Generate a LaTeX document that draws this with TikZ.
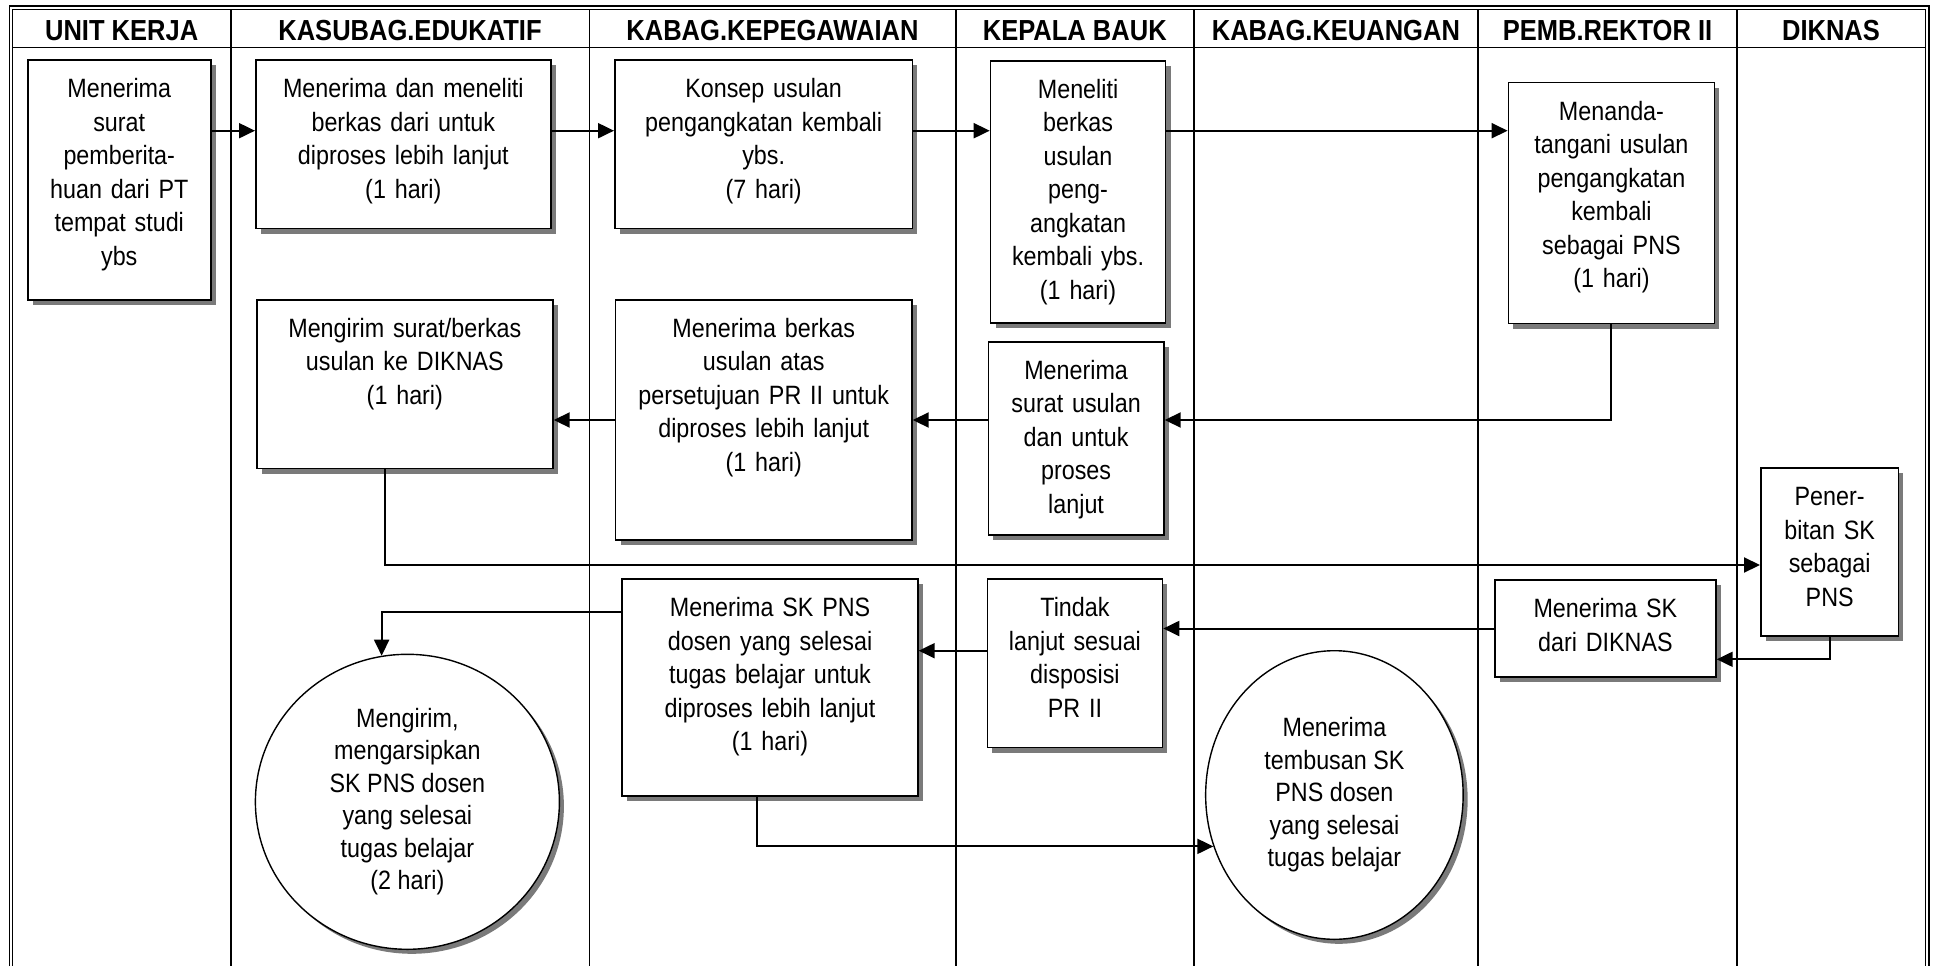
\documentclass[tikz,border=0pt]{standalone}
\usepackage{fontspec}
\setmainfont{Liberation Sans}[FakeStretch=0.88]
\usetikzlibrary{arrows.meta,shapes.geometric,shadows}
\definecolor{FlowInk}{HTML}{000000}
\definecolor{FlowShade}{HTML}{7A7A7A}

\begin{document}
\begin{tikzpicture}[
    x=1pt, y=-1pt,
    >={Triangle[length=16pt,width=15pt]},
    frame/.style={draw=FlowInk,line width=1.2pt,double,double distance=2pt},
    lane/.style={draw=FlowInk,line width=1.6pt},
    lanehead/.style={font=\bfseries\fontsize{29}{34}\selectfont,inner sep=0pt},
    stepbox/.style={draw=FlowInk,line width=1.7pt,fill=white,anchor=north west,
      align=center,inner xsep=2pt,inner ysep=0pt,text height=37.5pt,
      font=\fontsize{26.5}{33.5}\selectfont,
      drop shadow={shadow xshift=5pt,shadow yshift=-5pt,fill=FlowShade,opacity=1}},
    boxdim/.style 2 args={text width=#1pt-4pt,text depth=#2pt-37.5pt},
    endcircle/.style={ellipse,draw=FlowInk,line width=1.4pt,fill=white,
      align=center,inner sep=0pt,font=\fontsize{26.5}{32.5}\selectfont,
      drop shadow={shadow xshift=4.5pt,shadow yshift=-4.5pt,fill=FlowShade,opacity=1}},
    flow/.style={->,draw=FlowInk,line width=2pt}
  ]
  \useasboundingbox (0,0) rectangle (1934,966);

  % swimlanes
  \draw[frame] (11,966) |- (1927.3,7.7) -- (1927.3,966);
  \draw[lane] (12.6,47.7) -- (1925.6,47.7);
  \foreach \x in {230.7,589.3,955.8,1193.8,1478,1737}
    \draw[lane] (\x,9.3) -- (\x,966);
  \foreach \hname/\hx/\htext in {unit/121.7/UNIT KERJA,edu/410/KASUBAG.EDUKATIF,
      peg/772.5/KABAG.KEPEGAWAIAN,bauk/1074.8/KEPALA BAUK,
      keu/1335.9/KABAG.KEUANGAN,rektor/1607.5/PEMB.REKTOR II,diknas/1831/DIKNAS}
    \node[lanehead] (h\hname) at (\hx,30.5) {\htext};

  % steps
  \node[stepbox,boxdim={182.8}{239.7}] (surat) at (27,59.3)
    {Menerima\\surat\\pemberita-\\huan dari PT\\tempat studi\\ybs};
  \node[stepbox,boxdim={295}{168.4}] (teliti) at (255,59.3)
    {Menerima dan meneliti\\berkas dari untuk\\diproses lebih lanjut\\(1 hari)};
  \node[stepbox,boxdim={297.6}{168.4}] (konsep) at (614,59.3)
    {Konsep usulan\\pengangkatan kembali\\ybs.\\(7 hari)};
  \node[stepbox,boxdim={175}{262}] (bauk1) at (989.7,60)
    {Meneliti\\berkas\\usulan\\peng-\\angkatan\\kembali ybs.\\(1 hari)};
  \node[stepbox,boxdim={206}{241}] (ttd) at (1507.6,81.7)
    {Menanda-\\tangani usulan\\pengangkatan\\kembali\\sebagai PNS\\(1 hari)};
  \node[stepbox,boxdim={296}{168.7}] (kirim) at (256,299)
    {Mengirim surat/berkas\\usulan ke DIKNAS\\(1 hari)};
  \node[stepbox,boxdim={296.3}{240.3}] (setuju) at (614.7,299)
    {Menerima berkas\\usulan atas\\persetujuan PR II untuk\\diproses lebih lanjut\\(1 hari)};
  \node[stepbox,boxdim={175.5}{193}] (bauk2) at (987.5,341)
    {Menerima\\surat usulan\\dan untuk\\proses\\lanjut};
  \node[stepbox,boxdim={137.6}{167.7}] (terbit) at (1760,467.3)
    {Pener-\\bitan SK\\sebagai\\PNS};
  \node[stepbox,boxdim={221}{96.7}] (skdiknas) at (1494,579.3)
    {Menerima SK\\dari DIKNAS};
  \node[stepbox,boxdim={175}{168.4}] (tindak) at (986.6,578.3)
    {Tindak\\lanjut sesuai\\disposisi\\PR II};
  \node[stepbox,boxdim={295.6}{216.7}] (skpns) at (621.4,578.3)
    {Menerima SK PNS\\dosen yang selesai\\tugas belajar untuk\\diproses lebih lanjut\\(1 hari)};
  \node[endcircle,minimum width=304pt,minimum height=295pt] (arsip) at (407.4,801.8)
    {Mengirim,\\mengarsipkan\\SK PNS dosen\\yang selesai\\tugas belajar\\(2 hari)};
  \node[endcircle,minimum width=257.5pt,minimum height=288.6pt] (tembusan) at (1334.4,795)
    {Menerima\\tembusan SK\\PNS dosen\\yang selesai\\tugas belajar};

  % connectors
  \coordinate (row1) at (0,130.7);
  \coordinate (row2) at (0,420);
  \coordinate (row3) at (0,565);
  \coordinate (row4) at (0,659.3);
  \coordinate (row5) at (0,650.7);
  \coordinate (row6) at (0,611.7);
  \coordinate (drop1) at (384.8,0);
  \coordinate (drop2) at (757.1,0);

  \foreach \from/\to in {surat/teliti,teliti/konsep,konsep/bauk1,bauk1/ttd}
    \draw[flow] (\from.east |- row1) -- (\to.west |- row1);
  \draw[flow] (ttd.south) |- (bauk2.east |- row2);
  \draw[flow] (bauk2.west |- row2) -- (setuju.east |- row2);
  \draw[flow] (setuju.west |- row2) -- (kirim.east |- row2);
  \draw[flow] (kirim.south -| drop1) |- (terbit.west |- row3);
  \draw[flow] (terbit.south) |- (skdiknas.east |- row4);
  \draw[flow] (skdiknas.west) -- (tindak.east |- skdiknas.west);
  \draw[flow] (tindak.west |- row5) -- (skpns.east |- row5);
  \draw[flow] (skpns.west |- row6) -| (arsip.100);
  \draw[flow] (skpns.south -| drop2) |- (tembusan.203);
\end{tikzpicture}
\end{document}
